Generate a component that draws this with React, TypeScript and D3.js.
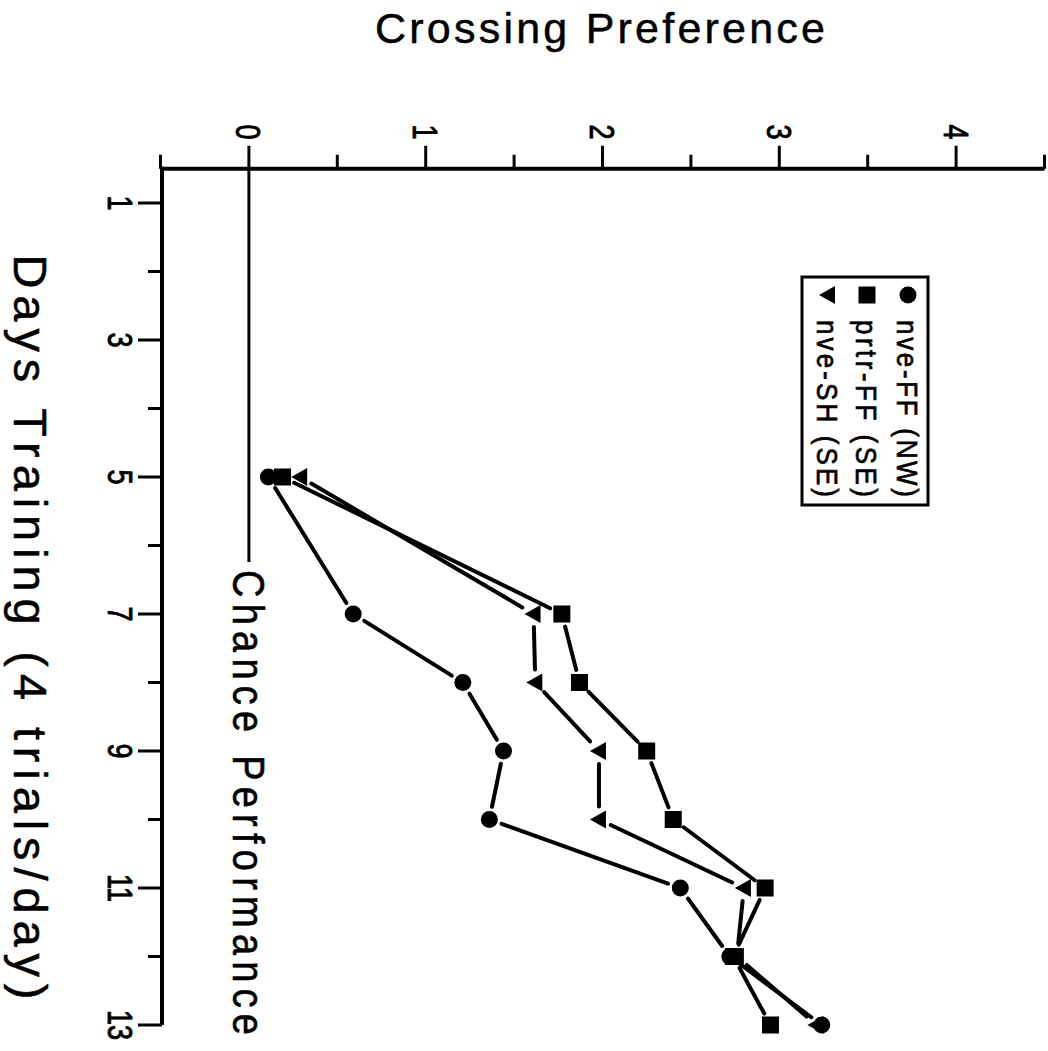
import React from "react";
import * as d3 from "d3";

const days = [5, 7, 8, 9, 10, 11, 12, 13];
const nveFF = [0.11, 0.59, 1.21, 1.44, 1.36, 2.44, 2.72, 3.24];
const prtrFF = [0.19, 1.77, 1.87, 2.25, 2.4, 2.92, 2.74, 2.95];
const nveSH = [0.29, 1.61, 1.62, 1.98, 1.98, 2.8, 2.76, 3.21];

const valueTickLabels = [0, 1, 2, 3, 4];
const valueTicks = d3.range(-0.5, 4.51, 0.5);
const dayTicks = d3.range(1, 14, 1);
const dayTickLabels = [1, 3, 5, 7, 9, 11, 13];

const seriesNames = ["nve-FF  (NW)", "prtr-FF  (SE)", "nve-SH  (SE)"];
const titleText = "Crossing Preference";
const dayTitle = "Days Training (4 trials/day)";
const chanceText = "Chance Performance";

const FONT = "'Liberation Sans', Arial, Helvetica, sans-serif";

const xV = d3.scaleLinear().domain([-0.5, 4.5]).range([160.5, 1044.5]);
const yD = d3.scaleLinear().domain([1, 13]).range([203, 1025]);

type Shape = "circle" | "square" | "triangle";

function Marker({ cx, cy, shape }: { cx: number; cy: number; shape: Shape }) {
  if (shape === "circle") return <circle cx={cx} cy={cy} r={8.5} fill="#000" />;
  if (shape === "square")
    return <rect x={cx - 8.5} y={cy - 8.5} width={17} height={17} fill="#000" />;
  const tri = d3.line()([
    [cx - 9, cy],
    [cx + 7, cy - 9],
    [cx + 7, cy + 9],
  ]) + "Z";
  return <path d={tri} fill="#000" />;
}

function Series({ values, shape }: { values: number[]; shape: Shape }) {
  const pts = values.map((v, i) => [xV(v), yD(days[i])] as [number, number]);
  const gap = 13;
  const segs = [];
  for (let i = 0; i < pts.length - 1; i++) {
    const [x1, y1] = pts[i];
    const [x2, y2] = pts[i + 1];
    const dx = x2 - x1;
    const dy = y2 - y1;
    const L = Math.hypot(dx, dy);
    if (L <= 2 * gap) continue;
    const ux = dx / L;
    const uy = dy / L;
    segs.push(
      <line
        key={i}
        x1={x1 + ux * gap}
        y1={y1 + uy * gap}
        x2={x2 - ux * gap}
        y2={y2 - uy * gap}
        stroke="#000"
        strokeWidth={4}
        strokeLinecap="round"
      />
    );
  }
  return (
    <g>
      {segs}
      {pts.map(([x, y], i) => (
        <Marker key={i} cx={x} cy={y} shape={shape} />
      ))}
    </g>
  );
}

function RText({
  x,
  y,
  text,
  size,
  anchor = "middle",
  k = 1,
  len,
  sw = 0.5,
}: {
  x: number;
  y: number;
  text: string;
  size: number;
  anchor?: string;
  k?: number;
  len?: number;
  sw?: number;
}) {
  return (
    <text
      transform={`translate(${x},${y}) rotate(90) scale(1,${k})`}
      fontSize={size}
      fontFamily={FONT}
      textAnchor={anchor}
      fill="#000"
      stroke="#000"
      strokeWidth={sw}
      textLength={len}
      lengthAdjust={len ? "spacing" : undefined}
    >
      {text}
    </text>
  );
}

export default function App() {
  const axisY = yD(0.5);
  const axisX = xV(-0.5) + 1.5;
  const shapes: Shape[] = ["circle", "square", "triangle"];
  const legendBase = [897, 856, 817];
  return (
    <svg
      width={1048}
      height={1051}
      style={{ position: "absolute", left: 0, top: 0, background: "#fff" }}
    >
      <rect width={1048} height={1051} fill="#fff" />
      {/* title */}
      <text
        x={600}
        y={43}
        fontSize={43}
        fontFamily={FONT}
        textAnchor="middle"
        textLength={450}
        lengthAdjust="spacing"
        stroke="#000"
        strokeWidth={0.5}
      >
        {titleText}
      </text>

      {/* value axis (top) */}
      <line x1={xV(-0.5)} x2={xV(4.5)} y1={axisY} y2={axisY} stroke="#000" strokeWidth={4} />
      {valueTicks.map((t) => {
        const major = Math.abs(t - Math.round(t)) < 1e-6;
        return (
          <line
            key={t}
            x1={xV(t)}
            x2={xV(t)}
            y1={axisY}
            y2={axisY - (major ? 23 : 14)}
            stroke="#000"
            strokeWidth={3}
          />
        );
      })}
      {valueTickLabels.map((t) => (
        <RText key={t} x={xV(t) - 12.5} y={132} text={String(t)} size={27} k={1.3} sw={0.7} />
      ))}

      {/* day axis (left) */}
      <line x1={axisX} x2={axisX} y1={axisY - 2} y2={yD(13)} stroke="#000" strokeWidth={4} />
      {dayTicks.map((t) => {
        const major = t % 2 === 1;
        return (
          <line
            key={t}
            x1={axisX}
            x2={axisX - (major ? 24 : 14)}
            y1={yD(t)}
            y2={yD(t)}
            stroke="#000"
            strokeWidth={3}
          />
        );
      })}
      {dayTickLabels.map((t) => (
        <RText key={t} x={108} y={yD(t)} text={String(t)} size={27} k={1.3} sw={0.7} />
      ))}
      <RText x={14} y={627} text={dayTitle} size={47} k={1.0} len={745} sw={0.5} />

      {/* chance line */}
      <line x1={xV(0)} x2={xV(0)} y1={axisY} y2={562} stroke="#000" strokeWidth={3} />
      <RText x={233} y={570} text={chanceText} size={38} k={1.15} anchor="start" len={465} sw={0.5} />

      {/* series */}
      <Series values={nveFF} shape="circle" />
      <Series values={nveSH} shape="triangle" />
      <Series values={prtrFF} shape="square" />

      {/* legend */}
      <rect x={802} y={277} width={126} height={228} fill="#fff" stroke="#000" strokeWidth={3} />
      {seriesNames.map((name, i) => (
        <g key={name}>
          <Marker cx={legendBase[i] + 11} cy={295} shape={shapes[i]} />
          <RText x={legendBase[i]} y={320} text={name} size={26} k={1.15} anchor="start" len={177} sw={0.6} />
        </g>
      ))}
    </svg>
  );
}
